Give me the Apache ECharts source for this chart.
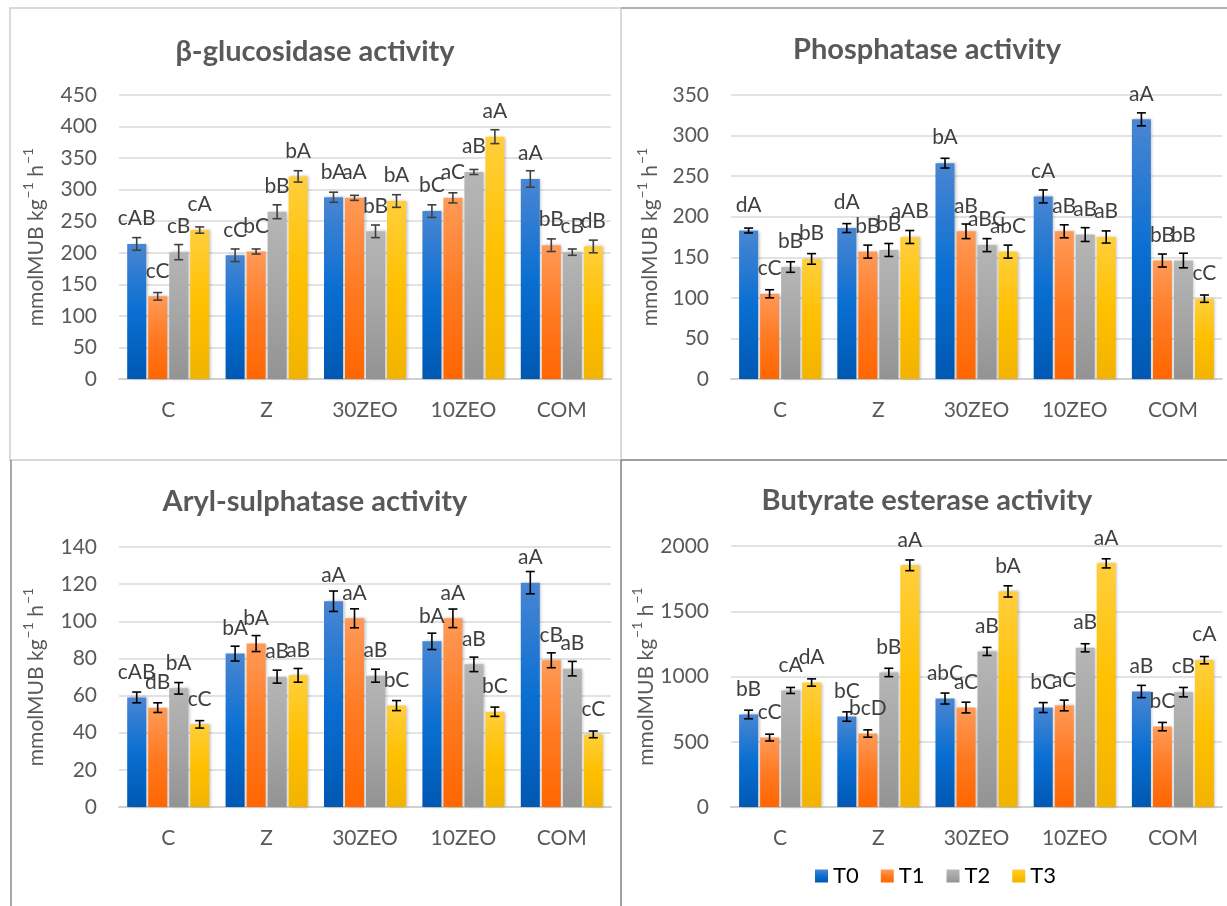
<!DOCTYPE html>
<html>
<head>
<meta charset="utf-8">
<script src="https://cdn.jsdelivr.net/npm/echarts@6/dist/echarts.min.js"></script>
<style>html,body{margin:0;padding:0;background:#fff;}#chart{width:1227px;height:906px;}</style>
</head>
<body>
<div id="chart"></div>
<script>
const categories = ['C', 'Z', '30ZEO', '10ZEO', 'COM'];
const seriesNames = ['T0', 'T1', 'T2', 'T3'];

// β-glucosidase
const glucValues = [[214, 196, 288, 266, 317], [131, 202, 287, 287, 212], [201, 265, 234, 328, 201], [236, 321, 282, 384, 210]];
const glucErrors = [[10, 10, 8, 10, 13], [6, 4, 4, 8, 10], [12, 11, 10, 4, 5], [5, 9, 10, 11, 10]];
const glucLabels = [['cAB', 'cC', 'bA', 'bC', 'aA'], ['cC', 'bC', 'aA', 'aC', 'bB'], ['cB', 'bB', 'bB', 'aB', 'cB'], ['cA', 'bA', 'bA', 'aA', 'dB']];

// Phosphatase
const phosValues = [[183, 186, 266, 225, 320], [105, 157, 182, 182, 146], [138, 159, 165, 178, 146], [148, 175, 157, 175, 99]];
const phosErrors = [[3, 5.5, 6, 8, 8], [5, 8, 9, 8, 8], [6.5, 8, 8, 8.5, 9], [6.5, 8, 8, 7.5, 4.5]];
const phosLabels = [['dA', 'dA', 'bA', 'cA', 'aA'], ['cC', 'bB', 'aB', 'aB', 'bB'], ['bB', 'bB', 'aBC', 'aB', 'bB'], ['bB', 'aAB', 'abC', 'aB', 'cC']];

// Aryl-sulphatase
const arylValues = [[59, 82.6, 110.8, 89.2, 120.8], [53.5, 88, 101.6, 101.6, 79], [63.9, 70.2, 70.7, 76.8, 74.5], [44.5, 70.9, 54.6, 51.3, 39.1]];
const arylErrors = [[2.9, 4, 5.5, 4.4, 6], [2.6, 4.3, 5.1, 5, 4], [3.1, 3.5, 3.5, 3.9, 3.9], [2, 3.7, 2.7, 2.5, 1.8]];
const arylLabels = [['cAB', 'bA', 'aA', 'bA', 'aA'], ['dB', 'bA', 'aA', 'aA', 'cB'], ['bA', 'aB', 'aB', 'aB', 'aB'], ['cC', 'aB', 'bC', 'bC', 'cC']];

// Butyrate esterase
const butyValues = [[709, 693, 831, 762, 885], [532, 563, 762, 778, 616], [893, 1031, 1192, 1220, 880], [954, 1852, 1652, 1867, 1125]];
const butyErrors = [[33, 36, 42, 38, 47], [26, 28, 41, 41, 32], [23, 32, 31, 31, 36], [28, 41, 43, 35, 28]];
const butyLabels = [['bB', 'bC', 'abC', 'bC', 'aB'], ['cC', 'bcD', 'aC', 'aC', 'bC'], ['cA', 'bB', 'aB', 'aB', 'cB'], ['dA', 'aA', 'bA', 'aA', 'cA']];

const titles = ['β-glucosidase activity', 'Phosphatase activity', 'Aryl-sulphatase activity', 'Butyrate esterase activity'];
const yMax = [450, 350, 140, 2000];
const yInterval = [50, 50, 20, 500];

const FONT = 'Lato, "DejaVu Sans", sans-serif';
const BAR_W = 19, BAR_GAP = 2;

function grad(c0, c1, c2) {
  return new echarts.graphic.LinearGradient(0, 0, 0, 1, [
    { offset: 0, color: c0 }, { offset: 0.5, color: c1 }, { offset: 1, color: c2 }
  ]);
}
const barColors = [
  grad('#4a86d2', '#0a6fd2', '#0058b2'),
  grad('#ff9a58', '#ff7a22', '#ff6600'),
  grad('#b6b6b6', '#a6a6a6', '#939393'),
  grad('#ffcf3c', '#ffc000', '#f2b300')
];

const grids = [
  { left: 119, top: 95, width: 492, height: 284 },
  { left: 731, top: 95, width: 491, height: 284 },
  { left: 119, top: 547, width: 492, height: 260 },
  { left: 731, top: 546, width: 491, height: 261 }
];

const panels = [
  [glucValues, glucErrors, glucLabels, '#3f3f3f'],
  [phosValues, phosErrors, phosLabels, '#000000'],
  [arylValues, arylErrors, arylLabels, '#000000'],
  [butyValues, butyErrors, butyLabels, '#000000']
];

const xAxes = [], yAxes = [], series = [];
panels.forEach((p, g) => {
  const [vals, errs, labs, errColor] = p;
  xAxes.push({
    type: 'category', gridIndex: g, data: categories,
    axisLine: { lineStyle: { color: '#d0d0d0', width: 2 } },
    axisTick: { show: false },
    axisLabel: { color: '#595959', fontSize: 21, fontFamily: FONT, margin: 21 }
  });
  yAxes.push({
    type: 'value', gridIndex: g, min: 0, max: yMax[g], interval: yInterval[g],
    name: '{m|mmolMUB kg}{s|\u22121}{m| h}{s|\u22121}', nameLocation: 'middle', nameGap: g % 2 === 0 ? 72 : 70,
    nameTextStyle: {
      color: '#595959', fontSize: 21, fontFamily: FONT,
      rich: {
        m: { fontSize: 21, fontFamily: FONT, color: '#595959', lineHeight: 26, verticalAlign: 'bottom' },
        s: { fontSize: 14, fontFamily: FONT, color: '#595959', lineHeight: 26, verticalAlign: 'top', padding: [0, 0, 0, 1] }
      }
    },
    axisLine: { show: false }, axisTick: { show: false },
    axisLabel: { color: '#595959', fontSize: 21, fontFamily: FONT, margin: 22, formatter: (v) => String(v) },
    splitLine: { lineStyle: { color: '#d9d9d9', width: 1.5 } }
  });
  vals.forEach((arr, s) => {
    series.push({
      type: 'bar', name: seriesNames[s], xAxisIndex: g, yAxisIndex: g,
      data: arr, barWidth: BAR_W, barGap: (BAR_GAP / BAR_W * 100) + '%',
      itemStyle: { color: barColors[s], shadowColor: 'rgba(0,0,0,0.25)', shadowBlur: 3, shadowOffsetX: 1.5, shadowOffsetY: 0 },
      label: {
        show: true, position: 'top', distance: 15,
        formatter: (pp) => labs[s][pp.dataIndex],
        color: '#404040', fontSize: 21, fontFamily: FONT
      },
      emphasis: { disabled: true },
      silent: true
    });
  });
  const edata = [];
  vals.forEach((arr, s) => arr.forEach((v, c) => edata.push([c, v, errs[s][c], s])));
  series.push({
    type: 'custom', xAxisIndex: g, yAxisIndex: g, z: 10, silent: true,
    data: edata, encode: { x: 0, y: 1 },
    renderItem: (params, api) => {
      const c = api.value(0), v = api.value(1), e = api.value(2), s = api.value(3);
      const off = (s - 1.5) * (BAR_W + BAR_GAP);
      const hi = api.coord([c, v + e]);
      const lo = api.coord([c, v - e]);
      const x = hi[0] + off;
      const st = { stroke: errColor, lineWidth: 1.6 };
      return {
        type: 'group', children: [
          { type: 'line', shape: { x1: x, y1: hi[1], x2: x, y2: lo[1] }, style: st },
          { type: 'line', shape: { x1: x - 4.5, y1: hi[1], x2: x + 4.5, y2: hi[1] }, style: st },
          { type: 'line', shape: { x1: x - 4.5, y1: lo[1], x2: x + 4.5, y2: lo[1] }, style: st }
        ]
      };
    }
  });
});

const titlePos = [[315, 52], [927, 50], [315, 502], [927, 501]];
const graphics = titles.map((t, i) => ({
  type: 'text', x: titlePos[i][0], y: titlePos[i][1], silent: true,
  style: { text: t, fill: '#595959', font: 'bold 29px ' + FONT, textAlign: 'center', textVerticalAlign: 'middle' }
}));
graphics.push(
  { type: 'rect', shape: { x: 10, y: 8, width: 611, height: 452 }, style: { fill: 'none', stroke: '#d9d9d9', lineWidth: 2 }, silent: true },
  { type: 'line', shape: { x1: 621, y1: 8, x2: 1227, y2: 8 }, style: { stroke: '#9a9a9a', lineWidth: 1.5 }, silent: true },
  { type: 'line', shape: { x1: 11, y1: 460, x2: 11, y2: 906 }, style: { stroke: '#8c8c8c', lineWidth: 1.5 }, silent: true },
  { type: 'line', shape: { x1: 621, y1: 460, x2: 1227, y2: 460 }, style: { stroke: '#7f7f7f', lineWidth: 1.5 }, silent: true },
  { type: 'line', shape: { x1: 621, y1: 460, x2: 621, y2: 906 }, style: { stroke: '#7f7f7f', lineWidth: 1.5 }, silent: true }
);

const chart = echarts.init(document.getElementById('chart'), null, { renderer: 'canvas' });
chart.setOption({
  animation: false,
  backgroundColor: '#ffffff',
  textStyle: { fontFamily: FONT },
  grid: grids,
  xAxis: xAxes,
  yAxis: yAxes,
  legend: {
    data: seriesNames, left: 810, top: 860, itemWidth: 13, itemHeight: 13, itemGap: 22, icon: 'rect',
    textStyle: { color: '#000', fontSize: 22, fontFamily: FONT }, selectedMode: false
  },
  graphic: graphics,
  series: series
});
</script>
</body>
</html>
